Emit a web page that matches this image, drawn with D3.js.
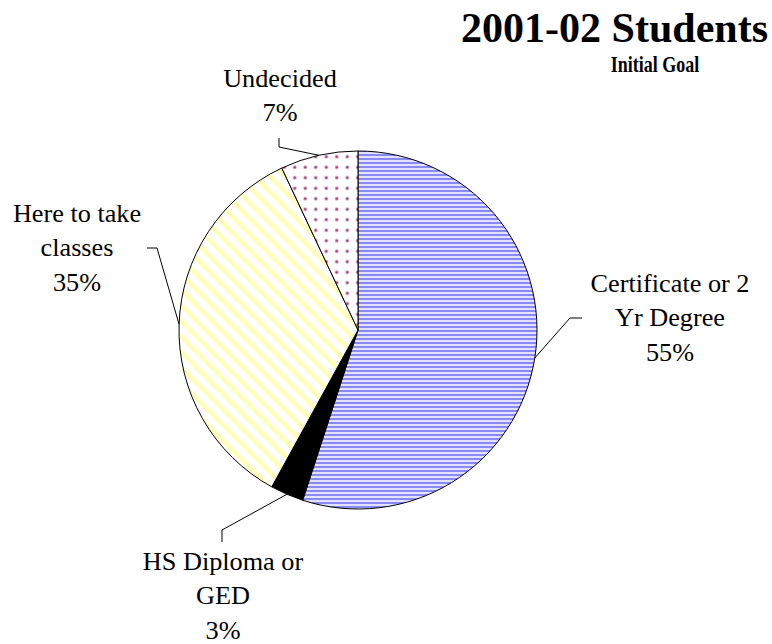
<!DOCTYPE html>
<html><head><meta charset="utf-8">
<script src="https://cdn.jsdelivr.net/npm/d3@7"></script>
<style>html,body{margin:0;padding:0;background:#fff;}svg{display:block;}</style>
</head><body>
<script>
const categories = ["Certificate or 2 Yr Degree", "HS Diploma or GED", "Here to take classes", "Undecided"];
const values = [55, 3, 35, 7];
const labelLines = [["Certificate or 2", "Yr Degree", "55%"], ["HS Diploma or", "GED", "3%"], ["Here to take", "classes", "35%"], ["Undecided", "7%"]];
const title = "2001-02 Students";
const subtitle = "Initial Goal";

const W = 772, H = 644;
const cx = 358, cy = 330, R = 179;
const FONT = "Liberation Serif, 'Times New Roman', serif";
const svg = d3.select("body").append("svg").attr("width", W).attr("height", H);
const defs = svg.append("defs");

// blue horizontal stripes
const p1 = defs.append("pattern").attr("id", "pBlue").attr("patternUnits", "userSpaceOnUse").attr("width", 8).attr("height", 4);
p1.append("rect").attr("width", 8).attr("height", 4).attr("fill", "#e2e2ff");
p1.append("rect").attr("y", 0).attr("width", 8).attr("height", 2).attr("fill", "#8a8af6");
// yellow diagonal stripes
const p3 = defs.append("pattern").attr("id", "pYellow").attr("patternUnits", "userSpaceOnUse").attr("width", 11).attr("height", 11).attr("patternTransform", "rotate(-45)");
p3.append("rect").attr("width", 11).attr("height", 11).attr("fill", "#ffffff");
p3.append("rect").attr("width", 4.5).attr("height", 11).attr("fill", "#ffffb8");
// dots
const p4 = defs.append("pattern").attr("id", "pDots").attr("patternUnits", "userSpaceOnUse").attr("width", 10.5).attr("height", 10.5).attr("x", cx - 6.5).attr("y", 0);
p4.append("rect").attr("width", 10.5).attr("height", 10.5).attr("fill", "#ffffff");
p4.append("circle").attr("cx", 5.25).attr("cy", 5.25).attr("r", 2.1).attr("fill", "#e6c8dc");
p4.append("circle").attr("cx", 5.25).attr("cy", 5.25).attr("r", 1.3).attr("fill", "#993366");

const fills = ["url(#pBlue)", "#000000", "url(#pYellow)", "url(#pDots)"];

const pie = d3.pie().sort(null).value(d => d)(values);
const arc = d3.arc().innerRadius(0).outerRadius(R);
const g = svg.append("g").attr("transform", `translate(${cx},${cy})`);
g.selectAll("path").data(pie).join("path")
  .attr("d", arc).attr("fill", (d, i) => fills[i])
  .attr("stroke", "#000").attr("stroke-width", 1).attr("stroke-linejoin", "round");

// labels: elbow/end positions and text anchor (layout, not data)
const labelLayout = [
  {elbow: [570, 318], end: [582, 318], tx: 670, ty: 292},
  {elbow: [222, 530], end: [222, 542], tx: 223, ty: 570},
  {elbow: [157, 248], end: [147, 248], tx: 77, ty: 222},
  {elbow: [279, 147], end: [279, 138], tx: 280, ty: 87}
];
const lineH = 34.5;
pie.forEach((d, i) => {
  const a = (d.startAngle + d.endAngle) / 2;
  const px = cx + R * Math.sin(a), py = cy - R * Math.cos(a);
  const L = labelLayout[i];
  svg.append("polyline")
    .attr("points", [[px, py], L.elbow, L.end].map(p => p.join(",")).join(" "))
    .attr("fill", "none").attr("stroke", "#000").attr("stroke-width", 1);
  const t = svg.append("text").attr("font-family", FONT)
    .attr("transform", `translate(${L.tx},${L.ty}) scale(1.05,1)`)
    .attr("font-size", 25).attr("text-anchor", "middle").attr("fill", "#000");
  labelLines[i].forEach((s, j) => {
    t.append("tspan").attr("x", 0).attr("y", j * lineH).text(s);
  });
});

svg.append("text").attr("transform", "translate(768,42)").attr("text-anchor", "end")
  .attr("font-family", FONT).attr("font-weight", "bold")
  .attr("font-size", 42).text(title);
svg.append("text").attr("transform", "translate(655,72) scale(1,1.3)").attr("text-anchor", "middle")
  .attr("font-family", FONT).attr("font-weight", "bold")
  .attr("font-size", 18).text(subtitle);
</script>
</body></html>
